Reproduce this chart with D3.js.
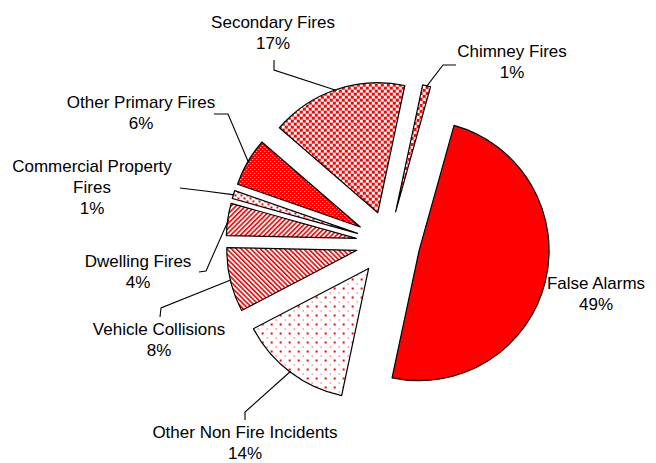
<!DOCTYPE html>
<html>
<head>
<meta charset="utf-8">
<script src="https://cdn.jsdelivr.net/npm/d3@7"></script>
<style>
  body { margin: 0; background: #fff; }
  text { font-family: Arial, "Liberation Sans", sans-serif; font-size: 17px; fill: #000; }
</style>
</head>
<body>
<div id="chart"></div>
<script>
// data, clockwise from the first slice
const categories = ['Chimney Fires', 'False Alarms', 'Other Non Fire Incidents', 'Vehicle Collisions',
  'Dwelling Fires', 'Commercial Property Fires', 'Other Primary Fires', 'Secondary Fires']
const values = [1, 49, 14, 8, 4, 1, 6, 17]
const labelLines = [['Chimney Fires'], ['False Alarms'], ['Other Non Fire Incidents'], ['Vehicle Collisions'],
  ['Dwelling Fires'], ['Commercial Property', 'Fires'], ['Other Primary Fires'], ['Secondary Fires']]
const fills = ['url(#pChimney)', '#ff0000', 'url(#pSparse)', 'url(#pBack)', 'url(#pFwd)',
  'url(#pLight)', 'url(#pDense)', 'url(#pLarge)']

const width = 656
const height = 463
const cx = 388
const cy = 243
const radius = 130
const explode = 32
const startDeg = 12

// label anchor (first baseline) and leader stub (label end -> elbow)
const labelPos = [
  { x: 512, y: 57, stub: [[456, 65], [443, 65]] },
  { x: 596, y: 289, stub: null },
  { x: 245, y: 438, stub: [[245, 420], [245, 412]] },
  { x: 159, y: 335, stub: [[160, 317], [161, 308]] },
  { x: 138, y: 267, stub: [[199, 272], [206, 271]] },
  { x: 92, y: 172, stub: [[180, 188], [205, 191]] },
  { x: 141, y: 108, stub: [[214, 114], [228, 114]] },
  { x: 273, y: 28, stub: [[274, 60], [274, 70]] }
]

const svg = d3.select('#chart').append('svg').attr('width', width).attr('height', height)
const defs = svg.append('defs')

// fill patterns
function pattern (id, size, bg, rot) {
  const p = defs.append('pattern').attr('id', id).attr('patternUnits', 'userSpaceOnUse')
    .attr('width', size).attr('height', size)
  if (rot) p.attr('patternTransform', 'rotate(' + rot + ')')
  p.append('rect').attr('width', size).attr('height', size).attr('fill', bg)
  return p
}
function dots (p, pts, s, color) {
  pts.forEach(d => p.append('rect').attr('x', d[0]).attr('y', d[1]).attr('width', s).attr('height', s)
    .attr('fill', color).attr('shape-rendering', 'crispEdges'))
}
dots(pattern('pLarge', 6, '#fff'), [[0, 0], [3, 3]], 2.6, '#ff0000')
dots(pattern('pChimney', 6, '#fff'), [[0, 0], [3, 3]], 2.6, '#ff0000')
dots(pattern('pDense', 4, '#ff0000'), [[0, 0], [2, 2]], 1, '#fff')
dots(pattern('pLight', 6, '#fff'), [[0, 0], [3, 3]], 1.5, '#ff0000')
dots(pattern('pSparse', 9, '#fff'), [[1, 1], [5.5, 5.5]], 1.6, '#ff0000')
pattern('pFwd', 3.4, '#fff', 45).append('rect').attr('width', 1.6).attr('height', 3.4).attr('fill', '#ff0000')
pattern('pBack', 3.4, '#fff', -45).append('rect').attr('width', 1.6).attr('height', 3.4).attr('fill', '#ff0000')

const rad = Math.PI / 180
const pie = d3.pie().sort(null).value(d => d)
  .startAngle(startDeg * rad).endAngle((startDeg + 360) * rad)
const arcs = pie(values)
const arc = d3.arc().innerRadius(0).outerRadius(radius)

function apex (a) {
  const m = (a.startAngle + a.endAngle) / 2
  return [cx + explode * Math.sin(m), cy - explode * Math.cos(m)]
}

// slices
svg.append('g').selectAll('path').data(arcs).enter().append('path')
  .attr('transform', d => 'translate(' + apex(d) + ')')
  .attr('d', arc)
  .attr('fill', (d, i) => fills[i])
  .attr('stroke', '#000')
  .attr('stroke-width', 1.2)
  .attr('stroke-linejoin', 'round')

// leader lines end on the outer arc at the mid angle
const leaders = svg.append('g')
arcs.forEach((a, i) => {
  const lp = labelPos[i]
  if (!lp.stub) return
  const m = (a.startAngle + a.endAngle) / 2
  const p = apex(a)
  const end = [p[0] + (radius - 1) * Math.sin(m), p[1] - (radius - 1) * Math.cos(m)]
  leaders.append('polyline')
    .attr('points', lp.stub.concat([end]).map(d => d.join(',')).join(' '))
    .attr('fill', 'none').attr('stroke', '#000').attr('stroke-width', 1.1)
})

// labels
const labels = svg.append('g')
categories.forEach((c, i) => {
  const lp = labelPos[i]
  const lines = labelLines[i].concat([values[i] + '%'])
  const t = labels.append('text').attr('text-anchor', 'middle')
  lines.forEach((s, j) => t.append('tspan').attr('x', lp.x).attr('y', lp.y + j * 21).text(s))
})
</script>
</body>
</html>
